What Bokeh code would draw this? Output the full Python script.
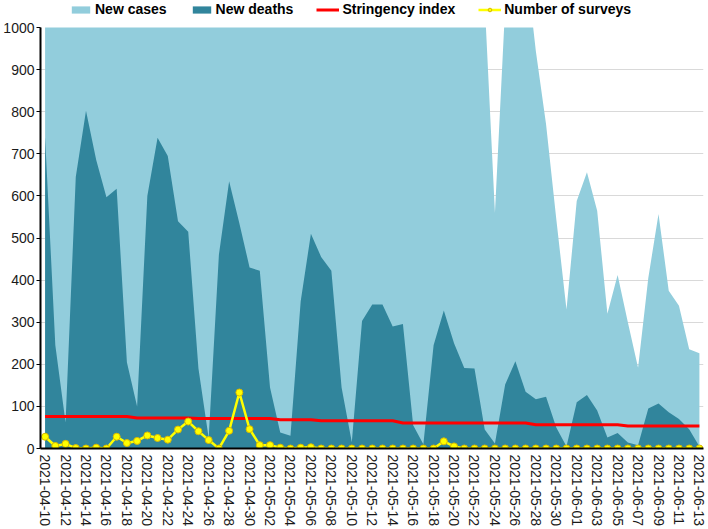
import pandas as pd
from bokeh.plotting import figure
from bokeh.layouts import column
from bokeh.models import (Range1d, FixedTicker, Legend, LegendItem, ColumnDataSource)
from bokeh.embed import file_html
from bokeh.resources import INLINE

dates = [d.strftime("%Y-%m-%d") for d in pd.date_range("2021-04-10", "2021-06-13", freq="D")]

new_cases = [21130, 13227, 8246, 9911, 21283, 17847, 16520, 14500, 10100, 5900,
             8800, 14700, 12300, 11100, 9400, 7200, 3300, 6300, 10400, 8800,
             7400, 5800, 3500, 2900, 1600, 6600, 6800, 5500, 4700, 3000,
             1700, 2900, 4200, 3300, 3200, 2800, 1700, 1100, 2000, 2200,
             1800, 1400, 1250, 1060, 560, 1050, 1300, 1160, 944, 770,
             545, 330, 588, 656, 565, 320, 412, 300, 192, 405,
             557, 375, 339, 236, 226]

new_deaths = [740, 245, 62, 645, 802, 685, 597, 617, 205, 100,
              600, 738, 695, 540, 515, 190, 25, 460, 635, 535,
              430, 422, 145, 38, 30, 350, 510, 455, 422, 145,
              15, 303, 342, 342, 290, 296, 55, 10, 245, 328,
              250, 191, 190, 45, 12, 152, 207, 135, 117, 123,
              50, 5, 110, 127, 90, 26, 37, 14, 8, 95,
              107, 86, 70, 46, 5]

stringency = [75.93] * 9 + [72.22] * 6 + [71.3] * 8 + [68.52] * 4 + [65.74] * 8 + \
             [60.65] * 13 + [56.48] * 9 + [53.7] * 8

surveys = [28, 6, 11, 1, 0, 2, 0, 28, 13, 18,
           31, 25, 21, 45, 64, 41, 20, 0, 42, 133,
           46, 8, 8, 2, 0, 2, 3, 0, 0, 0,
           0, 0, 0, 0, 0, 0, 0, 0, 0, 17,
           5, 0, 0, 0, 0, 0, 0, 0, 0, 0,
           0, 0, 0, 0, 0, 0, 0, 0, 0, 0,
           0, 0, 0, 0, 0]

legend_labels = ["New cases", "New deaths", "Stringency index", "Number of surveys"]

x = list(range(len(dates)))
src = ColumnDataSource(dict(x=x, cases=new_cases, deaths=new_deaths,
                            stringency=stringency, surveys=surveys,
                            zero=[0] * len(x)))

LIGHT = "#92CDDC"
DARK = "#31859C"
RED = "#FF0000"
YELLOW = "#FFFF00"
MARK_LINE = "#D8B800"
FONT = "Liberation Sans"

W = 708
LEG_H = 20
MAIN_H = 529 - LEG_H

p = figure(width=W, height=MAIN_H, output_backend="svg", toolbar_location=None,
           x_range=Range1d(-0.45, 64.4), y_range=Range1d(0, 1000),
           min_border_left=40, min_border_right=5, min_border_top=7,
           min_border_bottom=81)
p.outline_line_color = None
p.background_fill_color = "white"


def draw(fig):
    r1 = fig.varea(x="x", y1="zero", y2="cases", source=src, fill_color=LIGHT)
    r2 = fig.varea(x="x", y1="zero", y2="deaths", source=src, fill_color=DARK)
    r3 = fig.line(x="x", y="stringency", source=src, line_color=RED, line_width=3)
    r4 = fig.line(x="x", y="surveys", source=src, line_color=YELLOW, line_width=2.5)
    r5 = fig.scatter(x="x", y="surveys", source=src, size=7, fill_color=YELLOW,
                     line_color=MARK_LINE, line_width=1)
    return r1, r2, r3, r4, r5


draw(p)

# axes
p.xaxis.ticker = FixedTicker(ticks=list(range(0, len(dates), 2)))
p.xaxis.major_label_overrides = {i: dates[i] for i in range(0, len(dates), 2)}
p.xaxis.major_label_orientation = "vertical"
p.xaxis.major_label_text_font = FONT
p.xaxis.major_label_text_font_size = "14px"
p.xaxis.major_label_text_color = "#1a1a1a"
p.xaxis.major_tick_out = 0
p.xaxis.major_tick_in = 0
p.xaxis.minor_tick_out = 0
p.xaxis.minor_tick_in = 0
p.xaxis.major_label_standoff = 6
p.xaxis.axis_label_standoff = 0
p.xaxis.axis_line_color = "black"
p.xaxis.axis_line_width = 2

p.yaxis.ticker = FixedTicker(ticks=list(range(0, 1001, 100)))
p.yaxis.major_label_text_font = FONT
p.yaxis.major_label_text_font_size = "14px"
p.yaxis.major_label_text_color = "#1a1a1a"
p.yaxis.major_tick_out = 4
p.yaxis.major_tick_in = 0
p.yaxis.minor_tick_out = 0
p.yaxis.minor_tick_in = 0
p.yaxis.major_label_standoff = 2
p.yaxis.axis_label_standoff = 0
p.yaxis.major_tick_line_color = "black"
p.yaxis.axis_line_color = "black"
p.yaxis.axis_line_width = 2

p.xgrid.grid_line_color = None
p.ygrid.grid_line_color = "#D9D9D9"
p.ygrid.grid_line_width = 1

# legend strip on top (its own renderers are out of view; only the legend shows)
lf = figure(width=W, height=LEG_H, output_backend="svg", toolbar_location=None,
            x_range=Range1d(-200, -199), y_range=Range1d(-200, -199),
            x_axis_type=None, y_axis_type=None, min_border=0)
lf.outline_line_color = None
lf.xgrid.grid_line_color = None
lf.ygrid.grid_line_color = None
l1, l2, l3, l4, l5 = draw(lf)

legend = Legend(items=[
    LegendItem(label=legend_labels[0], renderers=[l1]),
    LegendItem(label=legend_labels[1], renderers=[l2]),
    LegendItem(label=legend_labels[2], renderers=[l3]),
    LegendItem(label=legend_labels[3], renderers=[l4, l5]),
], orientation="horizontal", location=(29, 3))
legend.label_text_font = FONT
legend.label_text_font_style = "bold"
legend.label_text_font_size = "14px"
legend.label_text_color = "black"
legend.glyph_width = 23
legend.glyph_height = 9
legend.label_height = 12
legend.label_standoff = 3
legend.spacing = 23
legend.padding = 0
legend.margin = 0
legend.border_line_color = None
legend.background_fill_alpha = 0
lf.add_layout(legend, "center")

layout = column(lf, p, spacing=0)
open("out.html", "w").write(file_html(layout, INLINE))
